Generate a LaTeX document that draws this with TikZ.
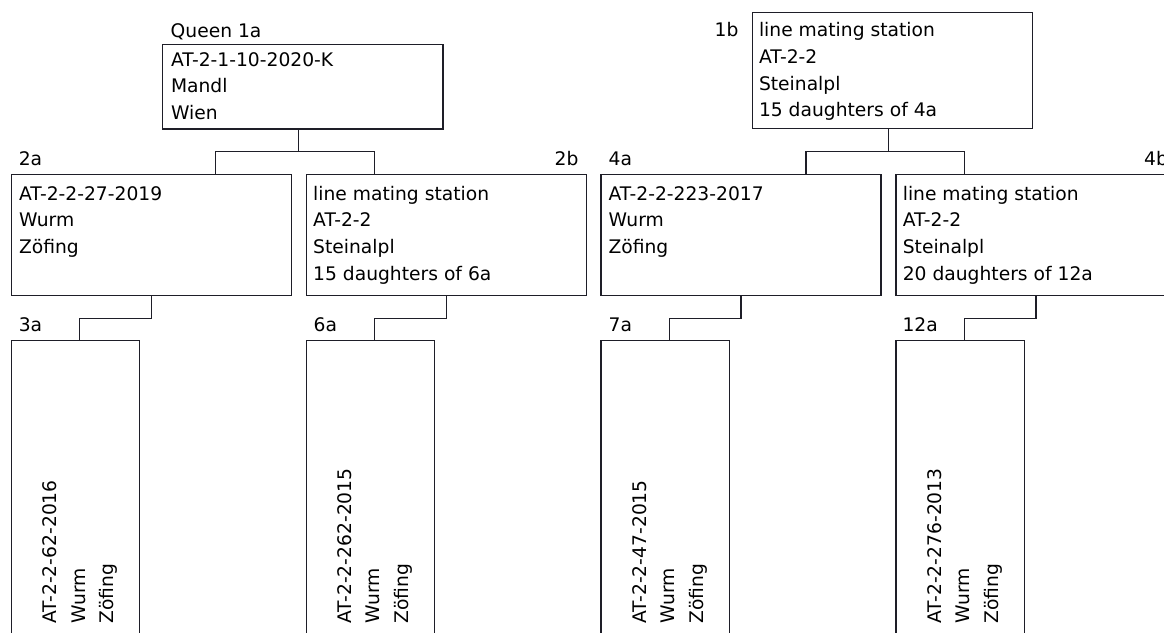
\documentclass[tikz,border=0pt]{standalone}
\usepackage{fontspec}
\setmainfont{DejaVu Sans}
\usetikzlibrary{calc}
\definecolor{ln}{RGB}{30,30,40}
\tikzset{
  box/.style={draw=ln, line width=1.3pt, rectangle, inner sep=0pt, outer sep=0pt, anchor=north west},
  bigbox/.style={box, minimum width=280pt, minimum height=121pt},
  smallbox/.style={box, minimum width=128.4pt, minimum height=300pt},
  txt/.style={inner sep=0pt, outer sep=0pt, align=left, anchor=north west, font=\fontsize{18.7}{26.67}\selectfont},
  rtxt/.style={inner sep=0pt, outer sep=0pt, align=left, anchor=north west, rotate=90, font=\fontsize{18.7}{28.7}\selectfont},
  lbl/.style={inner sep=0pt, outer sep=0pt, font=\fontsize{18.7}{22}\selectfont},
  conn/.style={draw=ln, line width=1.3pt},
}
\newcommand{\fs}{\rule{0pt}{15pt}}
\begin{document}
\begin{tikzpicture}[x=1pt,y=-1pt]
\useasboundingbox (0,0) rectangle (1164,632);
\clip (0,0) rectangle (1164,632);
% top boxes
\node[box, minimum width=280.3pt, minimum height=84.7pt] (b1a) at (162.7,44.3) {};
\node[box, minimum width=280pt, minimum height=116pt] (b1b) at (752.3,12.3) {};
% second row
\node[bigbox] (b2a) at (11.3,174.3) {};
\node[bigbox] (b2b) at (306.2,174.3) {};
\node[bigbox] (b4a) at (601.1,174.3) {};
\node[bigbox] (b4b) at (896.0,174.3) {};
% third row
\node[smallbox] (b3a) at (11.3,340.7) {};
\node[smallbox] (b6a) at (306.2,340.7) {};
\node[smallbox] (b7a) at (601.1,340.7) {};
\node[smallbox] (b12a) at (896.0,340.7) {};
% labels
\node[lbl, anchor=base west] (l1a) at (170.7,37.3) {Queen 1a};
\node[lbl, anchor=base east] (l1b) at (738.5,36) {1b};
\node[lbl, anchor=base west] (l2a) at (18.8,165) {2a};
\node[lbl, anchor=base east] (l2b) at (578.5,165) {2b};
\node[lbl, anchor=base west] (l4a) at (608.6,165) {4a};
\node[lbl, anchor=base east] (l4b) at (1168,165) {4b};
\node[lbl, anchor=base west] (l3a) at (18.8,331.7) {3a};
\node[lbl, anchor=base west] (l6a) at (313.7,331.7) {6a};
\node[lbl, anchor=base west] (l7a) at (608.6,331.7) {7a};
\node[lbl, anchor=base west] (l12a) at (902.5,331.7) {12a};
% box texts
\node[txt] (t1a) at (171,51) {\fs AT-2-1-10-2020-K\\Mandl\\Wien};
\node[txt] (t1b) at (759,21.7) {\fs line mating station\\AT-2-2\\Steinalpl\\15 daughters of 4a};
\node[txt] (t2a) at (19,185) {\fs AT-2-2-27-2019\\Wurm\\Zöfing};
\node[txt] (t2b) at (313.2,185) {\fs line mating station\\AT-2-2\\Steinalpl\\15 daughters of 6a};
\node[txt] (t4a) at (608.6,185) {\fs AT-2-2-223-2017\\Wurm\\Zöfing};
\node[txt] (t4b) at (902.8,185) {\fs line mating station\\AT-2-2\\Steinalpl\\20 daughters of 12a};
% rotated texts
\node[rtxt] (t3a) at (41.3,623.5) {\fs AT-2-2-62-2016\\Wurm\\Zöfing};
\node[rtxt] (t6a) at (336.2,623.5) {\fs AT-2-2-262-2015\\Wurm\\Zöfing};
\node[rtxt] (t7a) at (631.1,623.5) {\fs AT-2-2-47-2015\\Wurm\\Zöfing};
\node[rtxt] (t12a) at (926.0,623.5) {\fs AT-2-2-276-2013\\Wurm\\Zöfing};
% connectors
\coordinate (e1a) at (298.8,151.7);
\coordinate (e1b) at (888.7,151.7);
\draw[conn] (b1a.south -| e1a) -- (e1a);
\draw[conn] ($(b2a.north west)+(204.4,0)$) |- (e1a) -| ($(b2b.north west)+(68.2,0)$);
\draw[conn] (b1b.south -| e1b) -- (e1b);
\draw[conn] ($(b4a.north west)+(204.9,0)$) |- (e1b) -| ($(b4b.north west)+(68.3,0)$);
\draw[conn] (b2a.south) -- ++(0,23) -| ($(b3a.north west)+(68,0)$);
\draw[conn] (b2b.south) -- ++(0,23) -| ($(b6a.north west)+(68,0)$);
\draw[conn] (b4a.south) -- ++(0,23) -| ($(b7a.north west)+(68.2,0)$);
\draw[conn] (b4b.south) -- ++(0,23) -| ($(b12a.north west)+(68.3,0)$);
\end{tikzpicture}
\end{document}
